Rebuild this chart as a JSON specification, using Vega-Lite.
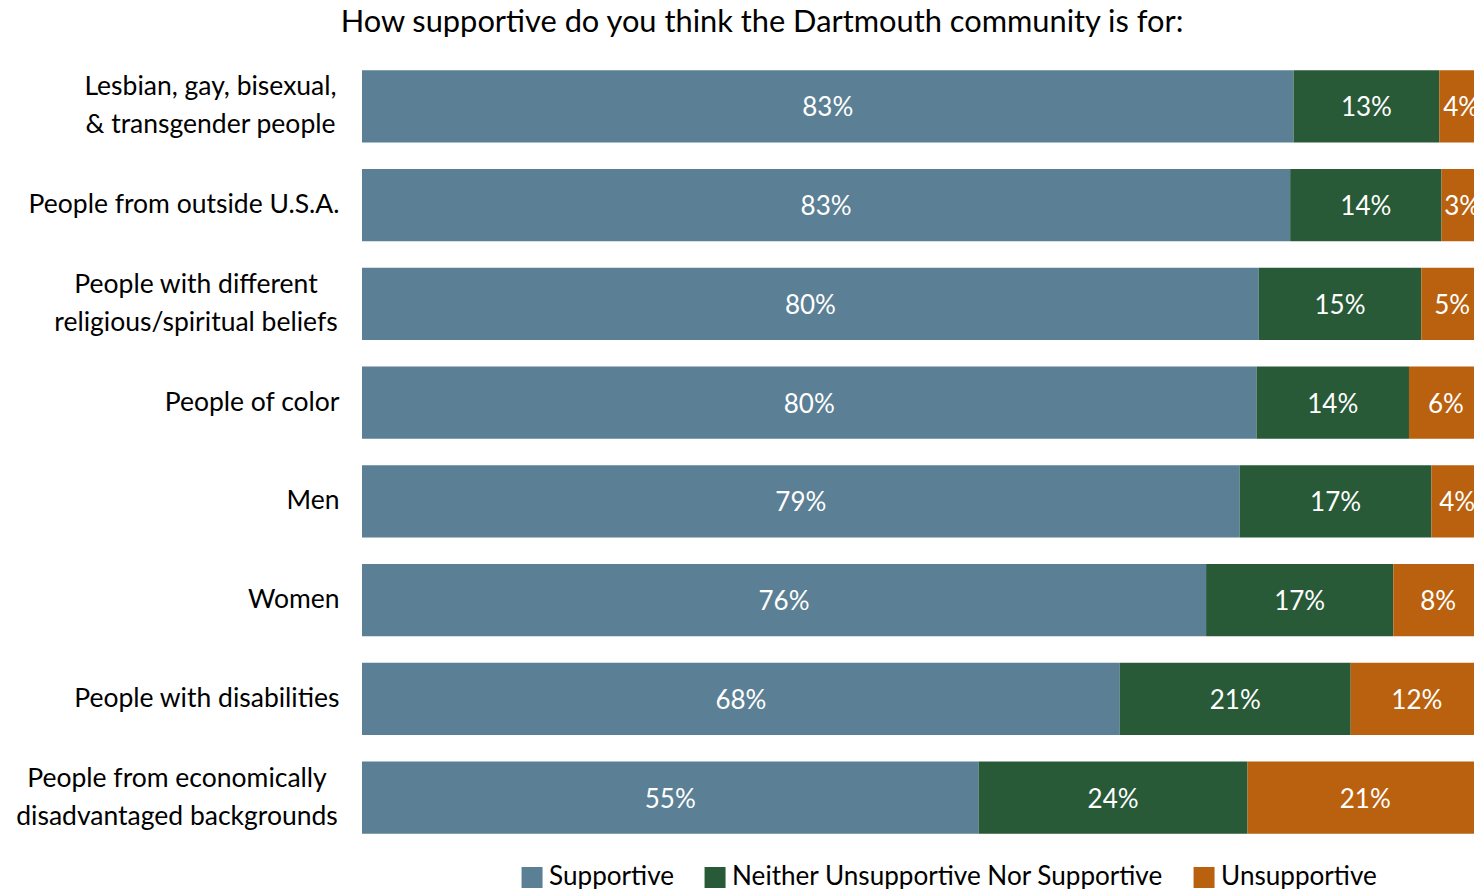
{
  "$schema": "https://vega.github.io/schema/vega-lite/v6.json",
  "autosize": "none",
  "width": 1112,
  "height": 790,
  "padding": {"left": 362, "top": 57, "right": 0, "bottom": 42},
  "background": "white",
  "title": {
    "text": "How supportive do you think the Dartmouth community is for:",
    "anchor": "middle",
    "frame": "group",
    "dx": -156,
    "offset": 18,
    "font": "Lato",
    "fontSize": 30.8,
    "fontWeight": "normal",
    "color": "#000000"
  },
  "data": {
    "values": [
      {"group": "Lesbian, gay, bisexual,\n& transgender people", "response": "Supportive", "value": 83.1, "label": "83%"},
      {"group": "Lesbian, gay, bisexual,\n& transgender people", "response": "Neither Unsupportive Nor Supportive", "value": 13.0, "label": "13%"},
      {"group": "Lesbian, gay, bisexual,\n& transgender people", "response": "Unsupportive", "value": 3.9, "label": "4%"},
      {"group": "People from outside U.S.A.", "response": "Supportive", "value": 82.8, "label": "83%"},
      {"group": "People from outside U.S.A.", "response": "Neither Unsupportive Nor Supportive", "value": 13.5, "label": "14%"},
      {"group": "People from outside U.S.A.", "response": "Unsupportive", "value": 3.7, "label": "3%"},
      {"group": "People with different\nreligious/spiritual beliefs", "response": "Supportive", "value": 80.0, "label": "80%"},
      {"group": "People with different\nreligious/spiritual beliefs", "response": "Neither Unsupportive Nor Supportive", "value": 14.5, "label": "15%"},
      {"group": "People with different\nreligious/spiritual beliefs", "response": "Unsupportive", "value": 5.5, "label": "5%"},
      {"group": "People of color", "response": "Supportive", "value": 79.8, "label": "80%"},
      {"group": "People of color", "response": "Neither Unsupportive Nor Supportive", "value": 13.6, "label": "14%"},
      {"group": "People of color", "response": "Unsupportive", "value": 6.6, "label": "6%"},
      {"group": "Men", "response": "Supportive", "value": 78.3, "label": "79%"},
      {"group": "Men", "response": "Neither Unsupportive Nor Supportive", "value": 17.1, "label": "17%"},
      {"group": "Men", "response": "Unsupportive", "value": 4.6, "label": "4%"},
      {"group": "Women", "response": "Supportive", "value": 75.3, "label": "76%"},
      {"group": "Women", "response": "Neither Unsupportive Nor Supportive", "value": 16.7, "label": "17%"},
      {"group": "Women", "response": "Unsupportive", "value": 8.0, "label": "8%"},
      {"group": "People with disabilities", "response": "Supportive", "value": 67.6, "label": "68%"},
      {"group": "People with disabilities", "response": "Neither Unsupportive Nor Supportive", "value": 20.6, "label": "21%"},
      {"group": "People with disabilities", "response": "Unsupportive", "value": 11.8, "label": "12%"},
      {"group": "People from economically\ndisadvantaged backgrounds", "response": "Supportive", "value": 55.0, "label": "55%"},
      {"group": "People from economically\ndisadvantaged backgrounds", "response": "Neither Unsupportive Nor Supportive", "value": 24.0, "label": "24%"},
      {"group": "People from economically\ndisadvantaged backgrounds", "response": "Unsupportive", "value": 21.0, "label": "21%"}
    ]
  },
  "transform": [
    {"calculate": "indexof(['Supportive','Neither Unsupportive Nor Supportive','Unsupportive'], datum.response)", "as": "order"},
    {"stack": "value", "groupby": ["group"], "sort": [{"field": "order", "order": "ascending"}], "as": ["x0", "x1"]},
    {"calculate": "(datum.x0 + datum.x1) / 2", "as": "xm"}
  ],
  "encoding": {
    "y": {
      "field": "group",
      "type": "nominal",
      "sort": null,
      "title": null,
      "scale": {"paddingInner": 0.27, "paddingOuter": 0.135},
      "axis": {
        "domain": false,
        "ticks": false,
        "labelPadding": {
          "condition": [
            {"test": "indexof(datum.value, 'Lesbian') >= 0", "value": 152},
            {"test": "indexof(datum.value, 'religious') >= 0", "value": 166.5},
            {"test": "indexof(datum.value, 'economically') >= 0", "value": 185.5}
          ],
          "value": 23
        },
        "labelAlign": {
          "condition": {"test": "indexof(datum.value, '\\n') >= 0", "value": "center"},
          "value": "right"
        },
        "labelOffset": {
          "condition": {"test": "indexof(datum.value, '\\n') >= 0", "value": -19},
          "value": 0
        },
        "labelLimit": 400,
        "labelFont": "Lato",
        "labelFontSize": 26.5,
        "labelColor": "#000000",
        "labelLineHeight": 38,
        "labelExpr": "split(datum.label, '\\n')"
      }
    }
  },
  "layer": [
    {
      "mark": {"type": "bar", "clip": true},
      "encoding": {
        "x": {"field": "x0", "type": "quantitative", "scale": {"domain": [0, 99.2], "nice": false}, "axis": null},
        "x2": {"field": "x1"},
        "color": {
          "field": "response",
          "type": "nominal",
          "scale": {
            "domain": ["Supportive", "Neither Unsupportive Nor Supportive", "Unsupportive"],
            "range": ["#5B7F94", "#285A38", "#BA610F"]
          },
          "legend": {
            "title": null,
            "orient": "none",
            "direction": "horizontal",
            "legendX": 157,
            "legendY": 807,
            "symbolType": "square",
            "symbolSize": 441,
            "symbolStrokeWidth": 0,
            "symbolOpacity": 1,
            "labelFont": "Lato",
            "labelFontSize": 26.1,
            "labelColor": "#000000",
            "labelOffset": 4,
            "columnPadding": 27,
            "labelLimit": 600
          }
        }
      }
    },
    {
      "mark": {"type": "text", "clip": true, "color": "white", "font": "Lato", "fontSize": 26, "align": "center", "baseline": "middle", "dy": 2},
      "encoding": {
        "x": {"field": "xm", "type": "quantitative"},
        "text": {"field": "label"}
      }
    }
  ],
  "config": {"view": {"stroke": null}}
}
